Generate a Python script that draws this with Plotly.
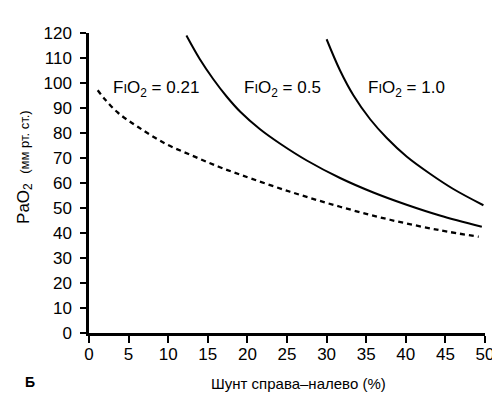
import plotly.graph_objects as go

# FiO2 = 0.21 (dashed)
x_021 = [1.1, 2.0, 3.7, 6.2, 9.6, 13.0, 16.3, 19.3, 25.4, 31.7, 38.0, 44.3, 49.2]
y_021 = [97.1, 93.5, 88.0, 82.4, 75.8, 71.0, 66.6, 63.1, 56.5, 50.5, 45.3, 41.1, 38.5]
# FiO2 = 0.5
x_05 = [12.3, 14.0, 15.7, 17.4, 19.1, 21.6, 24.1, 27.5, 31.7, 35.9, 40.1, 44.3, 49.6]
y_05 = [119.0, 109.5, 101.5, 94.5, 88.5, 81.5, 75.8, 69.0, 62.0, 56.2, 51.3, 47.0, 42.5]
# FiO2 = 1.0
x_10 = [30.0, 31.7, 33.4, 35.5, 37.6, 40.1, 43.1, 46.0, 49.8]
y_10 = [117.5, 105.0, 95.0, 85.5, 78.0, 70.6, 63.6, 57.6, 51.1]

labels = ["F<span style='font-size:13px'>I</span>O<sub>2</sub> = 0.21",
          "F<span style='font-size:13px'>I</span>O<sub>2</sub> = 0.5",
          "F<span style='font-size:13px'>I</span>O<sub>2</sub> = 1.0"]
label_x = [8.5, 24.4, 40.1]
label_y = [97.5, 97.5, 97.5]

x_ticks = list(range(0, 51, 5))
y_ticks = list(range(0, 121, 10))

font = "Liberation Sans, Arial, sans-serif"

fig = go.Figure()
fig.add_trace(go.Scatter(x=x_021, y=y_021, mode="lines", line=dict(color="black", width=2.3, dash="5px,4px", shape="spline")))
fig.add_trace(go.Scatter(x=x_05, y=y_05, mode="lines", line=dict(color="black", width=2, shape="spline")))
fig.add_trace(go.Scatter(x=x_10, y=y_10, mode="lines", line=dict(color="black", width=2, shape="spline")))

for t, lx, ly in zip(labels, label_x, label_y):
    fig.add_annotation(x=lx, y=ly, text=t, showarrow=False, font=dict(family=font, size=17, color="black"))

fig.add_annotation(xref="paper", yref="paper", x=-0.162, y=0.553, textangle=-90, showarrow=False,
                   xanchor="center", yanchor="middle",
                   text="PaO<sub>2</sub>  <span style='font-size:13px'>(мм рт. ст.)</span>",
                   font=dict(family=font, size=17, color="black"))
fig.add_annotation(xref="paper", yref="paper", x=0.528, y=-0.167, showarrow=False,
                   xanchor="center", yanchor="middle",
                   text="Шунт справа–налево (%)", font=dict(family=font, size=15, color="black"))
fig.add_annotation(xref="paper", yref="paper", x=-0.149, y=-0.163, showarrow=False,
                   xanchor="center", yanchor="middle",
                   text="<b>Б</b>", font=dict(family=font, size=14, color="black"))

fig.update_layout(
    width=500, height=399,
    margin=dict(l=81, r=23, t=25, b=74, autoexpand=False),
    plot_bgcolor="white", paper_bgcolor="white",
    showlegend=False,
)
fig.update_xaxes(range=[0, 50], tickvals=x_ticks, showgrid=False, zeroline=False, automargin=False,
                 showline=True, linecolor="black", linewidth=2.5, ticks="outside", ticklen=7,
                 tickwidth=2, tickcolor="black", ticklabelstandoff=-3,
                 tickfont=dict(family=font, size=17, color="black"))
fig.update_yaxes(range=[0, 120], tickvals=y_ticks, showgrid=False, zeroline=False, automargin=False,
                 showline=True, linecolor="black", linewidth=2.5, ticks="outside", ticklen=6,
                 tickwidth=2, tickcolor="black", ticklabelstandoff=5,
                 tickfont=dict(family=font, size=17, color="black"))

fig.write_html("out.html")
